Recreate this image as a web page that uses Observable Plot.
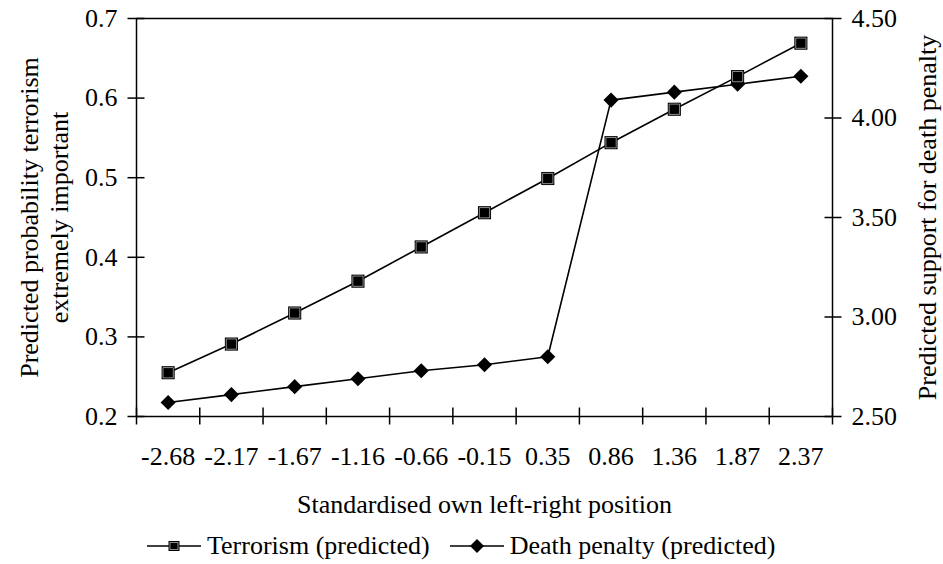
<!DOCTYPE html>
<html>
<head>
<meta charset="utf-8">
<script src="https://cdn.jsdelivr.net/npm/d3@7"></script>
<script src="https://cdn.jsdelivr.net/npm/@observablehq/plot@0.6"></script>
<style>
  html, body { margin: 0; padding: 0; background: white; }
  body { width: 943px; height: 564px; overflow: hidden; font-family: "Liberation Serif", "Times New Roman", serif; }
  #legend { display: flex; align-items: center; height: 36px; line-height: 36px; font-size: 26px; color: black; padding-left: 147px; box-sizing: border-box; width: 943px; }
  #legend .item { display: flex; align-items: center; margin-right: 20px; }
  #legend svg { display: block; margin-right: 6px; }
</style>
</head>
<body>
<div id="chart"></div>
<div id="legend"></div>
<script>
// ---- data ----
const categories = ["-2.68", "-2.17", "-1.67", "-1.16", "-0.66", "-0.15", "0.35", "0.86", "1.36", "1.87", "2.37"];
const terrorism = [0.255, 0.291, 0.330, 0.370, 0.413, 0.456, 0.499, 0.544, 0.586, 0.627, 0.669];
const deathPenalty = [2.57, 2.61, 2.65, 2.69, 2.73, 2.76, 2.80, 4.09, 4.13, 4.17, 4.21];
const leftTicks = [0.2, 0.3, 0.4, 0.5, 0.6, 0.7];
const rightTicks = [2.5, 3.0, 3.5, 4.0, 4.5];
const seriesNames = ["Terrorism (predicted)", "Death penalty (predicted)"];
const xTitle = "Standardised own left-right position";
const yLeftTitle = "Predicted probability terrorism\nextremely important";
const yRightTitle = "Predicted support for death penalty";

// right axis domain mapped onto the left axis domain
const leftDomain = [0.2, 0.7];
const rightDomain = [2.5, 4.5];
const toLeft = v => leftDomain[0] + (v - rightDomain[0]) * (leftDomain[1] - leftDomain[0]) / (rightDomain[1] - rightDomain[0]);
const toRight = v => rightDomain[0] + (v - leftDomain[0]) * (rightDomain[1] - rightDomain[0]) / (leftDomain[1] - leftDomain[0]);

const rows = categories.map((c, i) => ({cat: c, terr: terrorism[i], dp: deathPenalty[i]}));
const xPos = d => categories.indexOf(d.cat) + 0.5;
const boundaries = d3.range(0, categories.length + 1);

const chart = Plot.plot({
  width: 943,
  height: 528,
  marginTop: 18,
  marginLeft: 136,
  marginRight: 111,
  marginBottom: 112,
  style: {fontFamily: "Liberation Serif", fontSize: "26px", background: "white", color: "black", overflow: "visible"},
  x: {domain: [0, categories.length]},
  y: {domain: leftDomain},
  marks: [
    Plot.frame({stroke: "black", strokeWidth: 1.5}),
    // left axis: crossing ticks + labels
    Plot.axisY({ticks: leftTicks, tickSize: 17, dx: 8.5, tickFormat: () => "", label: null, strokeWidth: 1.5}),
    Plot.axisY({ticks: leftTicks, tickSize: 0, tickPadding: 19, tickFormat: d3.format(".1f"), label: null, fontSize: 26}),
    // right axis
    Plot.axisY({anchor: "right", ticks: rightTicks.map(toLeft), tickSize: 17, dx: -8.5, tickFormat: () => "", label: null, strokeWidth: 1.5}),
    Plot.axisY({anchor: "right", ticks: rightTicks.map(toLeft), tickSize: 0, tickPadding: 19, tickFormat: d => toRight(d).toFixed(2), label: null, fontSize: 26}),
    // bottom axis: ticks at category boundaries, labels at centres
    Plot.axisX({ticks: boundaries, tickSize: 17, dy: -8.5, tickFormat: () => "", label: null, strokeWidth: 1.5}),
    Plot.axisX({ticks: categories.map((c, i) => i + 0.5), tickSize: 0, tickPadding: 30, tickFormat: d => categories[Math.floor(d)], label: null, fontSize: 26}),
    // titles
    Plot.text([xTitle], {text: d => d, frameAnchor: "bottom", dy: 96, fontSize: 26, fill: "black"}),
    Plot.text([yLeftTitle], {text: d => d, frameAnchor: "left", textAnchor: "middle", rotate: -90, dx: -93, lineHeight: 1.15, fontSize: 26, fill: "black"}),
    Plot.text([yRightTitle], {text: d => d, frameAnchor: "right", textAnchor: "middle", rotate: -90, dx: 95, fontSize: 26, fill: "black"}),
    // death penalty series (right axis)
    Plot.line(rows, {x: xPos, y: d => toLeft(d.dp), stroke: "black", strokeWidth: 1.6}),
    Plot.dot(rows, {x: xPos, y: d => toLeft(d.dp), symbol: "diamond2", r: 6.8, fill: "black", stroke: "none"}),
    // terrorism series (left axis)
    Plot.line(rows, {x: xPos, y: d => d.terr, stroke: "black", strokeWidth: 1.6}),
    Plot.dot(rows, {x: xPos, y: d => d.terr, symbol: "square", r: 7.4, fill: "black", stroke: "none"}),
    Plot.dot(rows, {x: xPos, y: d => d.terr, symbol: "square", r: 5.8, fill: "none", stroke: "#b0b0b0", strokeWidth: 0.8})
  ]
});
document.getElementById("chart").appendChild(chart);

// legend
const legend = d3.select("#legend");
const symbols = ["square", "diamond"];
seriesNames.forEach((name, i) => {
  const item = legend.append("div").attr("class", "item");
  const svg = item.append("svg").attr("width", 54).attr("height", 16);
  svg.append("line").attr("x1", 0).attr("x2", 54).attr("y1", 8).attr("y2", 8).attr("stroke", "black").attr("stroke-width", 1.6);
  if (symbols[i] === "square") {
    svg.append("rect").attr("x", 21.5).attr("y", 3).attr("width", 11).attr("height", 10).attr("fill", "black");
    svg.append("rect").attr("x", 23).attr("y", 4.5).attr("width", 8).attr("height", 7).attr("fill", "none").attr("stroke", "#b0b0b0").attr("stroke-width", 0.8);
  } else {
    svg.append("path").attr("d", "M27,1L34,8L27,15L20,8Z").attr("fill", "black");
  }
  item.append("span").text(name);
});
</script>
</body>
</html>
